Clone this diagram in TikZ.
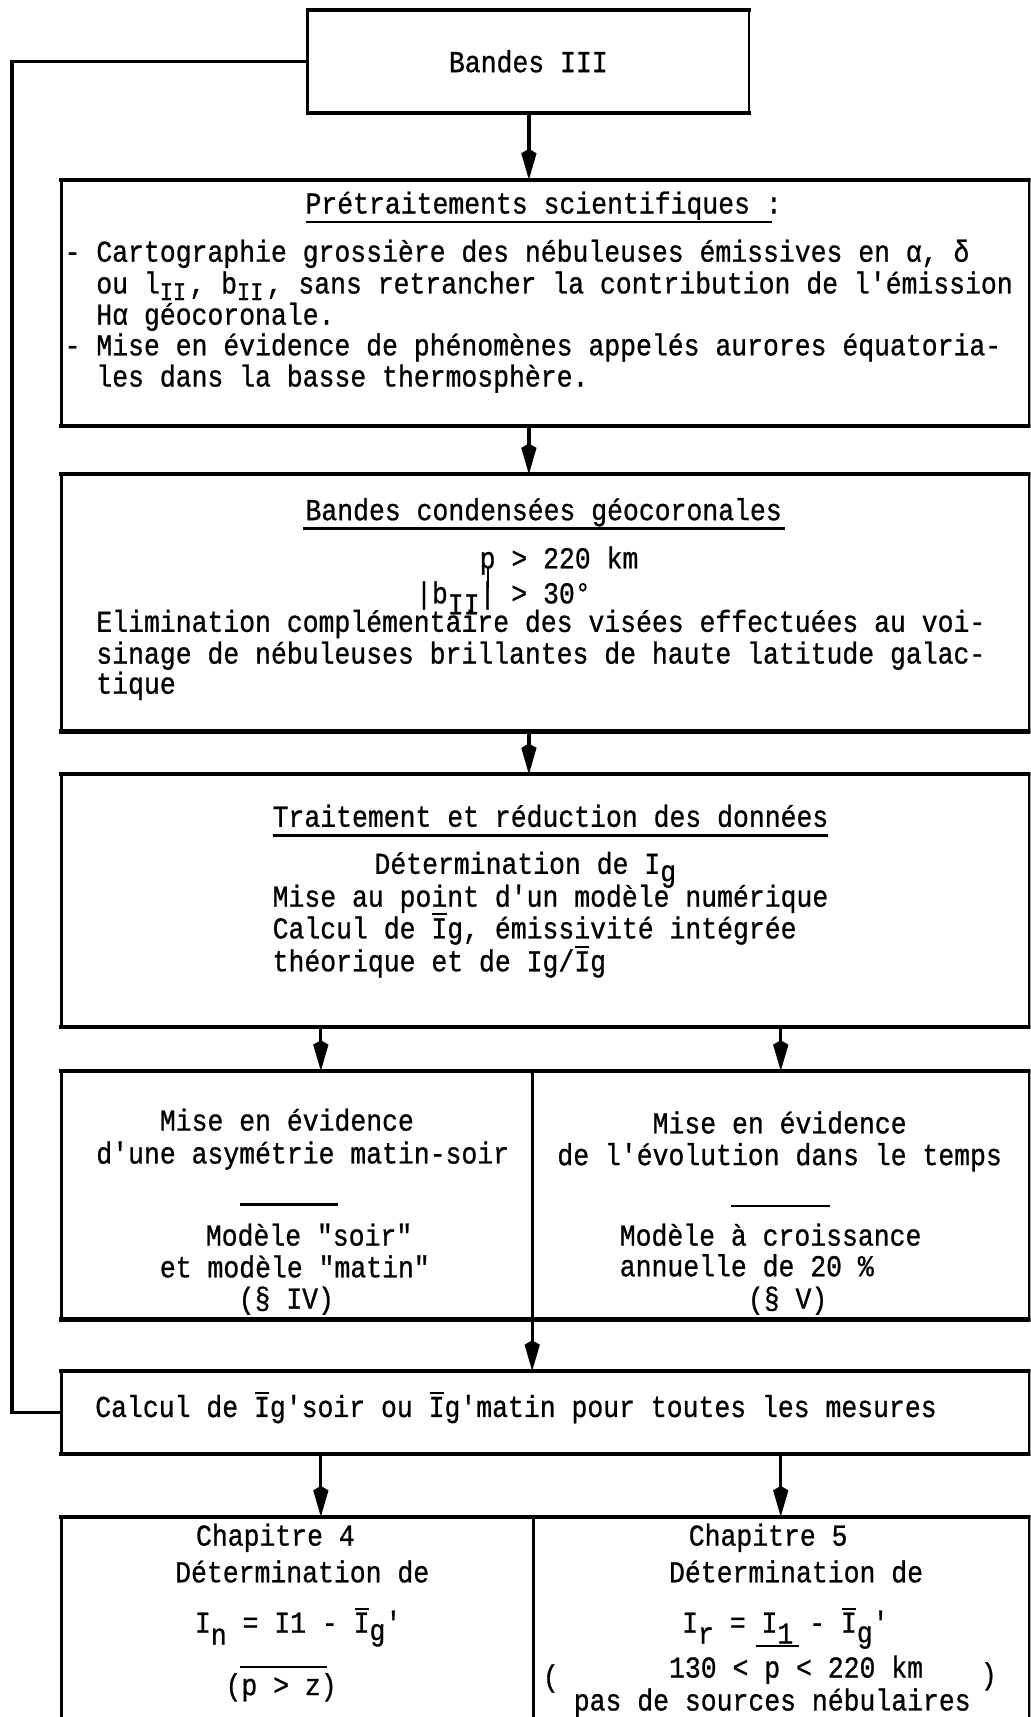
\documentclass[tikz,border=0pt]{standalone}
\usepackage{fontspec}
\newfontfamily\tw[FakeStretch=0.87,FakeBold=0.8]{Liberation Mono}
\usetikzlibrary{arrows.meta,calc}
\newcommand\dn[2]{\raisebox{-#1pt}{#2}}
\newcommand\smII{\makebox[27pt][l]{\fontsize{23}{22}\selectfont II}}
\newcommand\bI{\rlap{\hspace{0.8pt}\rule[21pt]{13pt}{1.8pt}}I}
\newcommand\tallbar{\rlap{\hspace{6.6pt}\rule[14pt]{1.8pt}{18pt}}|}
\newcommand\blk[1]{\vtop{\baselineskip=0pt\lineskiplimit=-1000pt\lineskip=0pt #1}}
\newcommand\lin[2]{\vskip#1pt\hbox{#2}}
\newcommand\hedges[1]{\draw[hedge] (#1.north west) -- (#1.north east) (#1.south west) -- (#1.south east);}
\begin{document}
\begin{tikzpicture}[x=1pt, y=-1pt,
  every node/.style={font=\tw\fontsize{27.77}{29}\selectfont\frenchspacing},
  box/.style={draw, line width=2.4pt, inner sep=0pt, outer sep=0pt, anchor=north west},
  hedge/.style={line width=3.8pt, line cap=rect},
  conn/.style={line width=3pt, -{Kite[length=28pt,width=14pt,inset=4pt]}},
  fb/.style={line width=3pt},
  txt/.style={anchor=base west, inner sep=0pt, outer sep=0pt},
  rl/.style={line width=2pt}]
\useasboundingbox (0,0) rectangle (941,1568);
\clip (0,0) rectangle (941,1568);
% boxes
\node[box, minimum width=403, minimum height=94] (b3) at (281,9) {Bandes III};
\node[box, minimum width=884, minimum height=225] (pre) at (56,164) {};
\node[box, minimum width=884, minimum height=235] (cond) at (56,433) {};
\node[box, minimum width=884, minimum height=231] (trait) at (56,707) {};
\node[box, minimum width=430, minimum height=227] (ml) at (56,978) {};
\node[box, minimum width=454, minimum height=227] (mr) at (486,978) {};
\node[box, minimum width=884, minimum height=76] (calc) at (56,1252) {};
\node[box, minimum width=431, minimum height=220] (bl) at (56,1385) {};
\node[box, minimum width=453, minimum height=220] (br) at (487,1385) {};
\hedges{b3}\hedges{pre}\hedges{cond}\hedges{trait}\hedges{ml}\hedges{mr}\hedges{calc}\hedges{bl}\hedges{br}
% connectors
\coordinate (xm) at (483,0);
\coordinate (xl) at (293,0);
\coordinate (xr) at (713,0);
\coordinate (fbx) at (11,0);
\draw[conn] (xm |- b3.south) -- (xm |- pre.north);
\draw[conn] (xm |- pre.south) -- (xm |- cond.north);
\draw[conn] (xm |- cond.south) -- (xm |- trait.north);
\draw[conn] (xl |- trait.south) -- (xl |- ml.north);
\draw[conn] (xr |- trait.south) -- (xr |- mr.north);
\draw[conn] (ml.south east) -- (ml.south east |- calc.north);
\draw[conn] (xl |- calc.south) -- (xl |- bl.north);
\draw[conn] (xr |- calc.south) -- (xr |- br.north);
\draw[fb] (b3.west) -- (b3.west -| fbx) -- (fbx |- calc.west) -- (calc.west);
% Pretraitements
\node[txt] (pt) at (279,195) {Prétraitements scientifiques :};
\draw[rl] ([yshift=-7.5pt]pt.base west) -- ([yshift=-7.5pt,xshift=-9pt]pt.base east);
\node[txt] (pb) at (59,239) {\blk{%
  \hbox{- Cartographie grossière des nébuleuses émissives en α, δ}
  \lin{29}{\hspace{29pt}ou l\dn{6}{\smII}, b\dn{6}{\smII}, sans retrancher la contribution de l'émission}
  \lin{28.5}{\hspace{29pt}Hα géocoronale.}
  \lin{28}{- Mise en évidence de phénomènes appelés aurores équatoria-}
  \lin{28.5}{\hspace{29pt}les dans la basse thermosphère.}}};
% Bandes condensees
\node[txt] (ct) at (279,475) {Bandes condensées géocoronales};
\draw[rl] ([yshift=-7.6pt,xshift=-2pt]ct.base west) -- ([yshift=-7.6pt,xshift=3pt]ct.base east);
\node[txt] (cb) at (88,519) {\blk{%
  \hbox{\hspace{350pt}p > 220 km}
  \lin{32}{\hspace{292pt}|b\dn{10}{II}\tallbar{} > 30°}
  \lin{26}{Elimination complémentaire des visées effectuées au voi-}
  \lin{29}{sinage de nébuleuses brillantes de haute latitude galac-}
  \lin{27.5}{tique}}};
% Traitement
\node[txt] (tt) at (249,755) {Traitement et réduction des données};
\draw[rl] ([yshift=-8pt]tt.base west) -- ([yshift=-8pt]tt.base east);
\node[txt] (tb) at (249,798) {\blk{%
  \hbox{\hspace{93pt}Détermination de I\dn{7}{g}}
  \lin{30}{Mise au point d'un modèle numérique}
  \lin{29}{Calcul de \bI g, émissivité intégrée}
  \lin{30}{théorique et de Ig/\bI g}}};
% split boxes
\node[txt] (l1) at (146,1032.5) {Mise en évidence};
\node[txt] (l2) at (88,1062.5) {d'une asymétrie matin-soir};
\draw[rl] (219,1100) -- (309,1100);
\node[txt] (l3) at (188,1137.5) {Modèle "soir"};
\node[txt] (l4) at (146,1166.5) {et modèle "matin"};
\node[txt] (l5) at (218,1195) {(§ IV)};
\node[txt] (r1) at (596,1035) {Mise en évidence};
\node[txt] (r2) at (509,1064) {de l'évolution dans le temps};
\draw[rl] (668,1101) -- (758,1101);
\node[txt] (r3) at (566,1137.5) {Modèle à croissance};
\node[txt] (r4) at (566,1165.5) {annuelle de 20 \%};
\node[txt] (r5) at (683,1195) {(§ V)};
% Calcul
\node[txt] (k1) at (87,1294) {Calcul de \bI g'soir ou \bI g'matin pour toutes les mesures};
% bottom
\node[txt] (qb) at (160,1411.5) {\blk{%
  \hbox{\hspace{19pt}Chapitre 4}
  \lin{33.5}{Détermination de}
  \lin{46}{\hspace{18pt}I\dn{11}{n} = I1 - \bI\dn{7}{g}'}
  \lin{57}{\hspace{46pt}(p > z)}}};
\draw[rl] (219,1522.5) -- (298.5,1522.5);
\node[txt] (sb) at (524,1411.5) {\blk{%
  \hbox{\hspace{105pt}Chapitre 5}
  \lin{33.5}{\hspace{87pt}Détermination de}
  \lin{46}{\hspace{99pt}I\dn{10}{r} = I\dn{10}{1} - \bI\dn{9}{g}'}
  \lin{41}{\hspace{87pt}130 < p < 220 km}
  \lin{30}{pas de sources nébulaires}}};
\draw[rl] (690,1503.5) -- (730,1503.5);
\node[anchor=base, inner sep=0pt] (s6) at (503,1540) {(};
\node[anchor=base, inner sep=0pt] (s7) at (903,1538) {)};
\end{tikzpicture}
\end{document}
